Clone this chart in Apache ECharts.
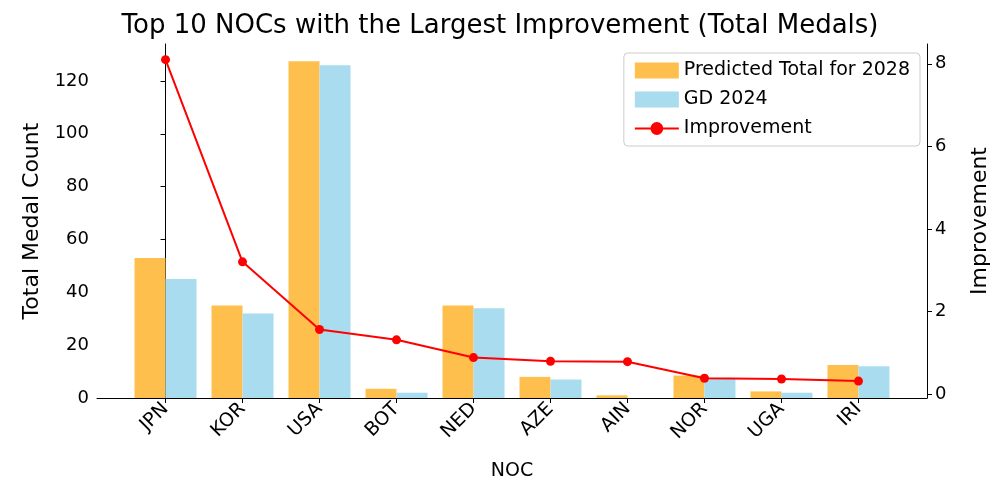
<!DOCTYPE html>
<html>
<head>
<meta charset="utf-8">
<script src="https://cdn.jsdelivr.net/npm/echarts@6/dist/echarts.min.js"></script>
<style>html,body{margin:0;padding:0;background:#fff}#main{width:1000px;height:500px}</style>
</head>
<body>
<div id="main"></div>
<script>
var nocs = ['JPN', 'KOR', 'USA', 'BOT', 'NED', 'AZE', 'AIN', 'NOR', 'UGA', 'IRI'];
var predicted2028 = [53, 35, 127.5, 3.5, 35, 8, 1, 8.5, 2.5, 12.5];
var gd2024 = [45, 32, 126, 2, 34, 7, 0, 7.5, 2, 12];
var improvement = [8.1, 3.2, 1.56, 1.31, 0.88, 0.79, 0.78, 0.38, 0.36, 0.31];
var leftTicks = [0, 20, 40, 60, 80, 100, 120];
var rightTicks = [0, 2, 4, 6, 8];

// position categories on a numeric axis so the side margins match
var idx = nocs.map(function(n, i) { return i; });
function pairs(vals) { return vals.map(function(v, i) { return [i, v]; }); }

var font = 'DejaVu Sans';
var myChart = echarts.init(document.getElementById('main'));
var option = {
	textStyle: {fontFamily: font},
	title: {
		text: 'Top 10 NOCs with the Largest Improvement (Total Medals)',
		left: 'center', top: 8,
		textStyle: {fontFamily: font, fontSize: 26, fontWeight: 'normal', color: '#000'}
	},
	legend: {
		right: 80, top: 53, orient: 'vertical',
		backgroundColor: '#fff', borderColor: '#ccc', borderWidth: 1, borderRadius: 4,
		padding: [8, 10], itemGap: 10, itemWidth: 44, itemHeight: 16,
		textStyle: {fontFamily: font, fontSize: 19, color: '#000'},
		data: [
			{name: 'Predicted Total for 2028', icon: 'rect'},
			{name: 'GD 2024', icon: 'rect'},
			{name: 'Improvement'}
		]
	},
	grid: {left: 97, right: 73, top: 44, bottom: 102},
	xAxis: {
		type: 'value', min: -0.89, max: 9.89,
		name: 'NOC', nameLocation: 'middle', nameGap: 64,
		nameTextStyle: {fontSize: 19, color: '#000'},
		splitLine: {show: false},
		axisLine: {lineStyle: {color: '#000'}},
		axisTick: {show: true, customValues: idx, lineStyle: {color: '#000'}},
		axisLabel: {
			customValues: idx, rotate: 45, fontSize: 19, color: '#000', margin: 8,
			formatter: function(v) { return nocs[Math.round(v)]; }
		}
	},
	yAxis: [{
		type: 'value', min: 0, max: 134,
		name: 'Total Medal Count', nameLocation: 'middle', nameGap: 50,
		nameTextStyle: {fontSize: 22, color: '#000'},
		splitLine: {show: false},
		axisLine: {show: true, lineStyle: {color: '#000'}},
		axisTick: {show: true, customValues: leftTicks, lineStyle: {color: '#000'}},
		axisLabel: {customValues: leftTicks, fontSize: 18, color: '#000'}
	}, {
		type: 'value', min: -0.1, max: 8.48,
		name: 'Improvement', nameLocation: 'middle', nameGap: 42,
		nameTextStyle: {fontSize: 22, color: '#000'},
		splitLine: {show: false},
		axisLine: {show: true, lineStyle: {color: '#000'}},
		axisTick: {show: true, customValues: rightTicks, lineStyle: {color: '#000'}},
		axisLabel: {customValues: rightTicks, fontSize: 18, color: '#000'}
	}],
	series: [{
		name: 'Predicted Total for 2028', type: 'bar', data: pairs(predicted2028),
		itemStyle: {color: '#ffbf4d'}, barWidth: 31, barGap: '0%'
	}, {
		name: 'GD 2024', type: 'bar', data: pairs(gd2024),
		itemStyle: {color: '#a8dcee'}, barWidth: 31, barGap: '0%'
	}, {
		name: 'Improvement', type: 'line', yAxisIndex: 1, data: pairs(improvement),
		symbol: 'circle', symbolSize: 9,
		lineStyle: {color: '#ff0000', width: 2},
		itemStyle: {color: '#ff0000'}
	}]
};
myChart.setOption(option);
</script>
</body>
</html>
